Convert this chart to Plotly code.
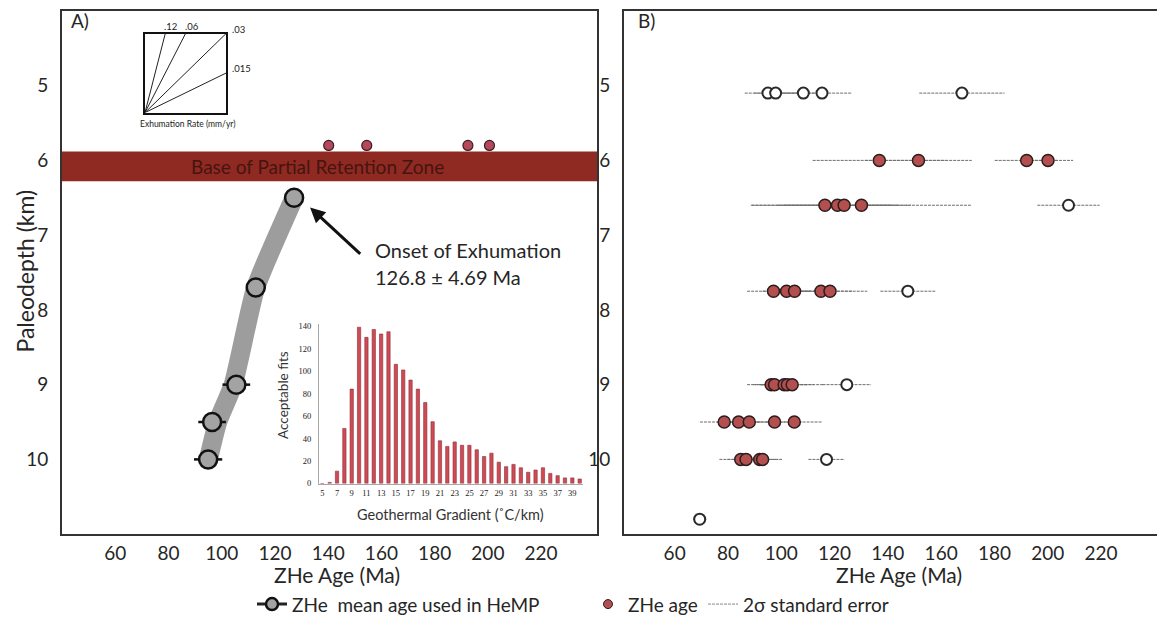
import plotly.graph_objects as go

# ---------------- data ----------------
# Panel A: mean ZHe ages used in HeMP
mean_age = [127.2, 112.8, 105.5, 96.4, 94.9]
mean_depth = [6.5, 7.7, 9.0, 9.5, 10.0]
mean_err = [3.0, 3.0, 5.2, 5.2, 5.3]

# HeMP path (grey band)
path_age = [94.6, 98.5, 104.3, 112.8, 127.2]
path_depth = [10.06, 9.5, 9.0, 7.7, 6.5]

# single-grain ages plotted above the PRZ base in panel A
prz_ages = [140.2, 154.5, 192.5, 200.6]
prz_depth = [5.8, 5.8, 5.8, 5.8]
prz_base = [5.88, 6.28]

onset_age = 126.8
onset_err = 4.69

# Panel B: single-grain ZHe ages (filled) and excluded ages (open)
b_fill_age = [136.8, 151.5, 192.1, 200.1,
              116.4, 121.1, 123.6, 130.1,
              97.1, 102.0, 105.0, 114.9, 118.3,
              96.2, 97.5, 101.1, 102.3, 104.1,
              78.6, 84.0, 88.0, 97.5, 104.9,
              84.8, 86.8, 91.9, 93.0]
b_fill_depth = [6.0] * 4 + [6.6] * 4 + [7.75] * 5 + [9.0] * 5 + [9.5] * 5 + [10.0] * 4
b_fill_err = [25, 20, 12, 9.4,
              27.8, 20, 25, 41.1,
              9.9, 9, 10, 12, 14,
              9, 8, 9, 10, 12,
              9.1, 8, 9, 10, 10.4,
              8, 7, 7, 7.3]

b_open_age = [95.0, 97.9, 108.3, 115.3, 167.8, 207.8, 147.5, 124.6, 117.0, 69.4]
b_open_depth = [5.1, 5.1, 5.1, 5.1, 5.1, 6.6, 7.75, 9.0, 10.0, 10.8]
b_open_err = [8.7, 8.0, 9.0, 11.2, 16.0, 11.7, 10.3, 9.1, 6.8, 2.5]

# Inset: geothermal gradient histogram
grad = list(range(5, 41))
fits = [0, 1, 11, 49, 84, 139, 130, 137, 133, 135, 106, 101, 92, 84, 72, 55,
        38, 33, 37, 34, 34, 30, 24, 27, 19, 15, 17, 14, 10, 12, 14, 9, 7, 5, 5, 4]
grad_ticks = list(range(5, 40, 2))

# Inset: exhumation-rate reference lines (mm/yr)
rates = [0.12, 0.06, 0.03, 0.015]
rate_labels = [".12", ".06", ".03", ".015"]
ref_rate = 0.03

xticks = [60, 80, 100, 120, 140, 160, 180, 200, 220]
yticks = [5, 6, 7, 8, 9, 10]

FONT = "Lato"
TXT = "#262626"
fig = go.Figure()

# ---------------- Panel A ----------------
fig.add_trace(go.Scatter(x=path_age, y=path_depth, mode="lines",
                         line=dict(color="#9d9d9d", width=19, shape="spline", smoothing=0.5),
                         xaxis="x", yaxis="y", showlegend=False, hoverinfo="skip"))
fig.add_trace(go.Scatter(x=mean_age, y=mean_depth, mode="markers",
                         marker=dict(size=18, color="#a3a3a3", line=dict(color="#111", width=2.5)),
                         error_x=dict(type="data", array=mean_err, color="#111", thickness=2.5, width=0),
                         xaxis="x", yaxis="y", showlegend=False))
fig.add_trace(go.Scatter(x=prz_ages, y=prz_depth, mode="markers",
                         marker=dict(size=10, color="#b5485a", line=dict(color="#3a1f22", width=1.2)),
                         xaxis="x", yaxis="y", showlegend=False))

# ---------------- Panel B ----------------
def err_segments(ages, depths, errs):
    xs, ys = [], []
    for a, d, e in zip(ages, depths, errs):
        xs += [a - e, a + e, None]
        ys += [d, d, None]
    return xs, ys

ex, ey = err_segments(b_fill_age + b_open_age, b_fill_depth + b_open_depth, b_fill_err + b_open_err)
fig.add_trace(go.Scatter(x=ex, y=ey, mode="lines",
                         line=dict(color="#6e6e6e", width=1, dash="3px,1px"),
                         xaxis="x2", yaxis="y2", showlegend=False, hoverinfo="skip"))
fig.add_trace(go.Scatter(x=b_open_age, y=b_open_depth, mode="markers",
                         marker=dict(size=11, color="white", line=dict(color="#2a2a2a", width=2)),
                         xaxis="x2", yaxis="y2", showlegend=False))
fig.add_trace(go.Scatter(x=b_fill_age, y=b_fill_depth, mode="markers",
                         marker=dict(size=12, color="#b3504f", line=dict(color="#2b1d1d", width=1.5)),
                         xaxis="x2", yaxis="y2", showlegend=False))

# ---------------- Inset: exhumation rates ----------------
for r in rates:
    fig.add_trace(go.Scatter(x=[0, min(1, ref_rate / r)], y=[0, min(1, r / ref_rate)],
                             mode="lines", line=dict(color="#222", width=1),
                             xaxis="x3", yaxis="y3", showlegend=False, hoverinfo="skip"))

# ---------------- Inset: histogram ----------------
fig.add_trace(go.Bar(x=grad, y=fits, marker=dict(color="#d04a55", line=dict(color="#8a2e35", width=0.6)),
                     xaxis="x4", yaxis="y4", showlegend=False))

# ---------------- legend entries ----------------
fig.add_trace(go.Scatter(x=[None], y=[None], mode="lines+markers", name="ZHe\u00a0 mean age used in HeMP",
                         line=dict(color="#222", width=3),
                         marker=dict(size=12, color="#a3a3a3", line=dict(color="#111", width=2.5)),
                         legend="legend"))
fig.add_trace(go.Scatter(x=[None], y=[None], mode="markers", name="ZHe age",
                         marker=dict(size=9, color="#b3504f", line=dict(color="#2b1d1d", width=1)),
                         legend="legend2"))
fig.add_trace(go.Scatter(x=[None], y=[None], mode="lines", name="2σ standard error",
                         line=dict(color="#8a8a8a", width=1, dash="3px,1px"),
                         legend="legend3"))

W, H = 1157, 628
def px(x):
    return x / W
def py(y):
    return 1 - y / H

main_dom_y = [py(538), py(8)]
ax_common = dict(showgrid=False, zeroline=False, showline=True, linecolor="#333", linewidth=2,
                 ticks="", tickfont=dict(family=FONT, size=19, color=TXT))
leg_font = dict(family=FONT, size=19, color=TXT)

fig.update_layout(
    width=W, height=H, margin=dict(l=0, r=0, t=0, b=0),
    paper_bgcolor="white", plot_bgcolor="white",
    font=dict(family=FONT, color=TXT),
    bargap=0.55,
    xaxis=dict(domain=[px(62), px(597)], range=[40, 241], tickvals=xticks, mirror=True,
               ticklabelstandoff=1, **ax_common),
    yaxis=dict(domain=main_dom_y, range=[11.0, 4.0], tickvals=yticks, mirror=True,
               ticklabelstandoff=8, **ax_common),
    xaxis2=dict(domain=[px(624), 1.0], range=[41, 241], tickvals=xticks, mirror=True, anchor="y2",
                ticklabelstandoff=1, **ax_common),
    yaxis2=dict(domain=main_dom_y, range=[11.0, 4.0], tickvals=yticks, anchor="x2",
                ticklabelstandoff=8, **ax_common),
    xaxis3=dict(domain=[px(145), px(226)], range=[0, 1], anchor="y3", showgrid=False, zeroline=False,
                showline=True, mirror=True, linecolor="#111", linewidth=2, showticklabels=False, ticks=""),
    yaxis3=dict(domain=[py(111), py(31)], range=[0, 1], anchor="x3", showgrid=False, zeroline=False,
                showline=True, mirror=True, linecolor="#111", linewidth=2, showticklabels=False, ticks=""),
    xaxis4=dict(domain=[px(319), px(583)], range=[4.55, 40.45], anchor="y4", showgrid=False, zeroline=False,
                showline=True, linecolor="#a8a8a8", linewidth=1, ticks="", tickvals=grad_ticks,
                tickfont=dict(family="Liberation Serif", size=8.5, color="#222"), ticklabelstandoff=1),
    yaxis4=dict(domain=[py(486.7), py(325)], range=[0, 142], anchor="x4", showgrid=False, zeroline=False,
                showline=True, linecolor="#a8a8a8", linewidth=1, ticks="", tickvals=list(range(0, 141, 20)),
                tickfont=dict(family="Liberation Serif", size=8.5, color="#222"), ticklabelstandoff=5),
    legend=dict(orientation="h", x=px(252), y=py(609), xanchor="left", yanchor="middle",
                font=leg_font, bgcolor="rgba(0,0,0,0)"),
    legend2=dict(orientation="h", x=px(588), y=py(609), xanchor="left", yanchor="middle",
                 font=leg_font, bgcolor="rgba(0,0,0,0)"),
    legend3=dict(orientation="h", x=px(703), y=py(609), xanchor="left", yanchor="middle",
                 font=leg_font, bgcolor="rgba(0,0,0,0)"),
)

# PRZ band
fig.add_shape(type="rect", xref="x domain", yref="y", x0=0, x1=1, y0=prz_base[0], y1=prz_base[1],
              fillcolor="#8f2a22", line=dict(width=0), layer="below")

def note(x, y, text, size, xref="paper", yref="paper", xanchor="center", yanchor="middle",
         color=TXT, family=FONT, **kw):
    return dict(x=x, y=y, xref=xref, yref=yref, text=text, showarrow=False, xanchor=xanchor,
                yanchor=yanchor, font=dict(family=family, size=size, color=color), **kw)

ann = []
ann.append(note(136.0, (prz_base[0] + prz_base[1]) / 2, "Base of Partial Retention Zone", 19,
                xref="x", yref="y", color="#461410"))
# onset arrow
ann.append(dict(x=133.2, y=6.63, ax=152.6, ay=7.27, xref="x", yref="y", axref="x", ayref="y",
                text="", showarrow=True, arrowhead=2, arrowsize=1, arrowwidth=3, arrowcolor="#111"))
ann.append(note(156.9, 7.2, "Onset of Exhumation", 20, xref="x", yref="y", xanchor="left"))
ann.append(note(156.9, 7.56, f"{onset_age} ± {onset_err} Ma", 20, xref="x", yref="y", xanchor="left"))
# panel labels
ann.append(note(px(69), py(18), "A)", 19, xanchor="left"))
ann.append(note(px(636), py(18), "B)", 19, xanchor="left"))
# axis titles
ann.append(note(px(337), py(579), "ZHe Age (Ma)", 21))
ann.append(note(px(899), py(579), "ZHe Age (Ma)", 21))
ann.append(note(px(25), py(272), "Paleodepth (km)", 23, textangle=-90))
# exhumation inset labels
for r, lab in zip(rates, rate_labels):
    xe, ye = min(1, ref_rate / r), min(1, r / ref_rate)
    if ye >= 1 and xe < 1:
        ann.append(note(xe, 1, lab, 9.5, xref="x3", yref="y3", xanchor="left", yanchor="bottom",
                        color="#222", xshift=-3))
    else:
        ann.append(note(1, ye, lab, 9.5, xref="x3", yref="y3", xanchor="left", yanchor="bottom",
                        color="#222", xshift=4, yshift=-3))
ann.append(note(px(187), py(123), "Exhumation Rate (mm/yr)", 8.5, color="#222"))
# histogram titles
ann.append(note(px(283), py(397), "Acceptable fits", 13.5, color="#333", textangle=-90))
ann.append(note(px(451), py(518), "Geothermal Gradient (˚C/km)", 14.5, color="#333"))
fig.update_layout(annotations=ann)

fig.write_html("out.html")
